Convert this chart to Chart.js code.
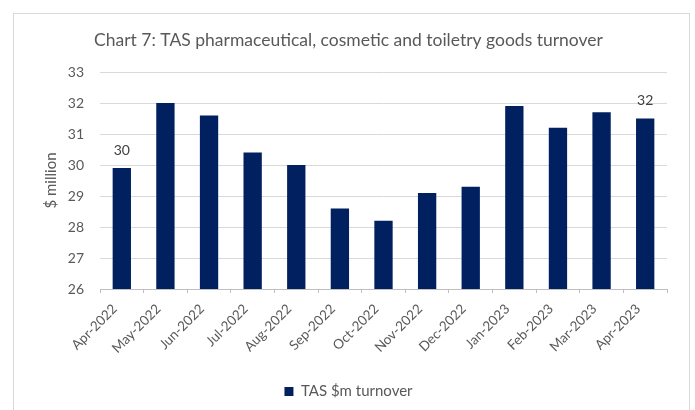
<!DOCTYPE html>
<html>
<head>
<meta charset="utf-8">
<script src="https://cdn.jsdelivr.net/npm/chart.js@4.4.0/dist/chart.umd.min.js"></script>
<style>
  html, body { margin: 0; padding: 0; background: #fff; }
</style>
</head>
<body>
<canvas id="chart" width="695" height="410"></canvas>
<script>
const months = [
  "Apr-2022", "May-2022", "Jun-2022", "Jul-2022", "Aug-2022", "Sep-2022", "Oct-2022",
  "Nov-2022", "Dec-2022", "Jan-2023", "Feb-2023", "Mar-2023", "Apr-2023",
];
const turnover = [29.9, 32.0, 31.6, 30.4, 30.0, 28.6, 28.2, 29.1, 29.3, 31.9, 31.2, 31.7, 31.5];
const yMin = 26;
const yMax = 33;
const labelledBars = [0, 12];

const FONT = "Lato, 'Open Sans', sans-serif";
const TEXT = "#595959";

// light grey frame around the chart, like the Excel chart border
const framePlugin = {
  id: "frame",
  beforeDraw(chart) {
    const ctx = chart.ctx;
    ctx.save();
    ctx.fillStyle = "#fff";
    ctx.fillRect(0, 0, chart.width, chart.height);
    ctx.strokeStyle = "#d9d9d9";
    ctx.lineWidth = 1;
    ctx.strokeRect(13.5, 13.5, 676, 420);
    ctx.restore();
  },
};

// value labels on first and last bar only
const barLabels = {
  id: "barLabels",
  afterDatasetsDraw(chart) {
    const ctx = chart.ctx;
    const meta = chart.getDatasetMeta(0);
    ctx.save();
    ctx.font = `14px ${FONT}`;
    ctx.fillStyle = "#404040";
    ctx.textAlign = "center";
    ctx.textBaseline = "bottom";
    labelledBars.forEach((i) => {
      const bar = meta.data[i];
      ctx.fillText(Math.round(turnover[i]), bar.x, bar.y - 11);
    });
    ctx.restore();
  },
};

new Chart(document.getElementById("chart"), {
  type: "bar",
  data: {
    labels: months,
    datasets: [
      {
        label: "TAS $m turnover",
        data: turnover,
        backgroundColor: "#002060",
        borderWidth: 0,
        barPercentage: 0.42,
        categoryPercentage: 1,
      },
    ],
  },
  options: {
    responsive: false,
    animation: false,
    layout: {
      padding: { left: 30, right: 28, top: 0, bottom: 1 },
    },
    plugins: {
      title: {
        display: true,
        text: "Chart 7: TAS pharmaceutical, cosmetic and toiletry goods turnover",
        color: TEXT,
        font: { family: FONT, size: 17.5, weight: "normal" },
        padding: { top: 30, bottom: 21 },
      },
      legend: {
        display: true,
        position: "bottom",
        labels: {
          color: TEXT,
          font: { family: FONT, size: 15 },
          boxWidth: 9,
          boxHeight: 9,
          padding: 10,
        },
      },
      tooltip: { enabled: false },
    },
    scales: {
      x: {
        grid: {
          display: true,
          drawOnChartArea: false,
          drawTicks: true,
          tickLength: 4,
          color: "#bfbfbf",
        },
        border: { display: true, color: "#bfbfbf" },
        ticks: {
          color: TEXT,
          font: { family: FONT, size: 13.5 },
          minRotation: 45,
          maxRotation: 45,
          padding: 8,
          labelOffset: -7,
        },
        afterFit: (scale) => {
          scale.height = 85;
        },
      },
      y: {
        min: yMin,
        max: yMax,
        ticks: {
          stepSize: 1,
          color: TEXT,
          font: { family: FONT, size: 14 },
          padding: 16,
        },
        grid: {
          color: "#d9d9d9",
          drawTicks: false,
        },
        border: { display: false },
        title: {
          display: true,
          text: "$ million",
          color: TEXT,
          font: { family: FONT, size: 15 },
          padding: { top: 12, bottom: 0 },
        },
        afterFit: (scale) => {
          scale.width = 70;
        },
      },
    },
  },
  plugins: [framePlugin, barLabels],
});
</script>
</body>
</html>
